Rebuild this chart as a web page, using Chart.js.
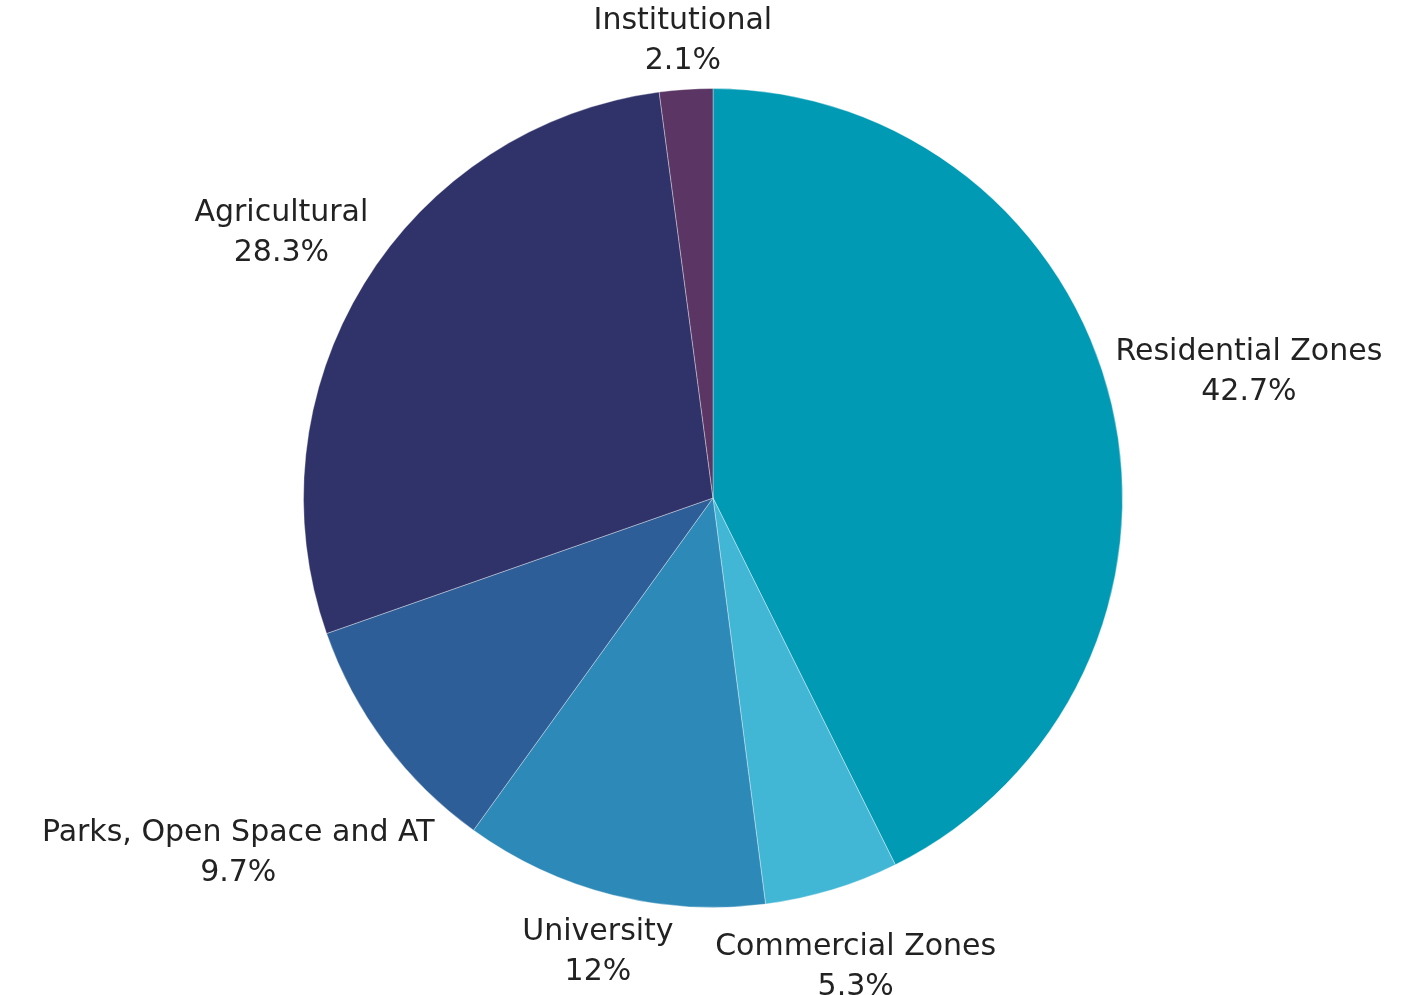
<!DOCTYPE html>
<html>
<head>
<meta charset="utf-8">
<script src="https://cdn.jsdelivr.net/npm/chart.js@4.4.1/dist/chart.umd.min.js"></script>
<style>
  html, body { margin: 0; padding: 0; background: #fff; }
  #wrap { width: 1418px; height: 995px; }
</style>
</head>
<body>
<div id="wrap"><canvas id="landUse"></canvas></div>
<script>
// --- DATA ---
const categories = ['Residential Zones', 'Commercial Zones', 'University', 'Parks, Open Space and AT', 'Agricultural', 'Institutional'];
const shares = [42.7, 5.3, 12, 9.7, 28.3, 2.1];
const shareLabels = ['42.7%', '5.3%', '12%', '9.7%', '28.3%', '2.1%'];
const sliceColors = ['#009AB4', '#42B7D5', '#2D89B7', '#2D5E97', '#30336A', '#5B3564'];

// outside labels: name on line 1, percent on line 2
const outsideLabels = {
    id: 'outsideLabels',
    afterDatasetsDraw(chart) {
        const ctx = chart.ctx;
        const meta = chart.getDatasetMeta(0);
        const lineGap = 40;
        const gap = 2;
        ctx.save();
        ctx.font = '30px "DejaVu Sans"';
        ctx.fillStyle = '#222';
        ctx.textAlign = 'center';
        ctx.textBaseline = 'middle';
        meta.data.forEach((arc, i) => {
            const mid = (arc.startAngle + arc.endAngle) / 2;
            const dx = Math.cos(mid), dy = Math.sin(mid);
            const w = Math.max(ctx.measureText(categories[i]).width, ctx.measureText(shareLabels[i]).width);
            const h = lineGap * 2;
            const dist = arc.outerRadius + gap + Math.abs(dx) * w / 2 + Math.abs(dy) * h / 2;
            const cx = arc.x + dx * dist;
            const cy = arc.y + dy * dist;
            ctx.fillText(categories[i], cx, cy - lineGap / 2);
            ctx.fillText(shareLabels[i], cx, cy + lineGap / 2);
        });
        ctx.restore();
    }
};

new Chart(document.getElementById('landUse'), {
    type: 'pie',
    data: {
        labels: categories,
        datasets: [{
            data: shares,
            backgroundColor: sliceColors,
            borderColor: 'rgba(255,255,255,0.35)',
            borderWidth: 1
        }]
    },
    options: {
        responsive: true,
        maintainAspectRatio: false,
        animation: false,
        layout: { padding: { top: 88, bottom: 87, left: 303, right: 295 } },
        plugins: {
            legend: { display: false },
            tooltip: { enabled: false }
        }
    },
    plugins: [outsideLabels]
});
</script>
</body>
</html>
